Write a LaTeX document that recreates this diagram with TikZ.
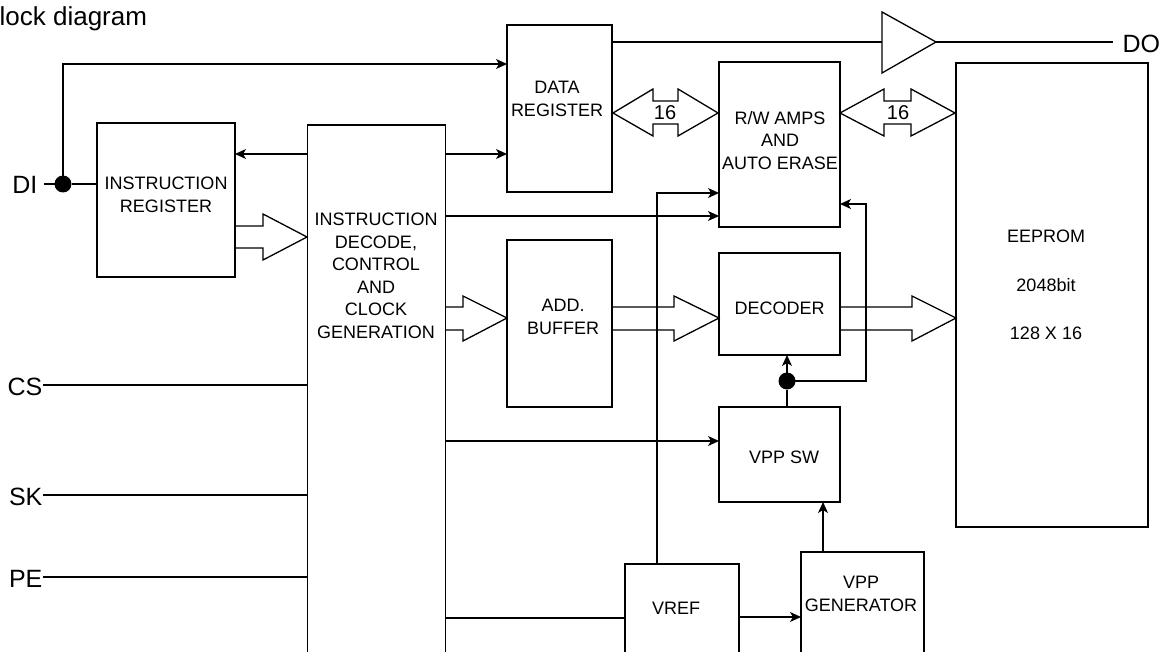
\documentclass[tikz,border=0pt]{standalone}
\usepackage{fontspec}
\setmainfont{Liberation Sans}
\usetikzlibrary{arrows.meta,calc}
\begin{document}
\begin{tikzpicture}[x=1pt,y=-1pt,
  line width=1.3pt,
  box/.style={draw, rectangle, inner sep=0pt, outer sep=0pt},
  txt/.style={align=center, inner sep=0pt, font=\fontsize{18}{22.5}\selectfont},
  pin/.style={inner sep=0pt, font=\fontsize{25}{30}\selectfont},
  arr/.style={-{Stealth[length=11pt,width=10pt,inset=3pt]}},
  bus/.style={line join=miter},
  dotn/.style={circle, fill=black, draw=none, minimum size=17pt, inner sep=0pt, outer sep=0pt},
  lbl/.style={inner sep=0pt, font=\fontsize{20}{24}\selectfont}]
\useasboundingbox (0,0) rectangle (1166,652);

% title
\node[anchor=base west, inner sep=0pt, font=\fontsize{26}{30}\selectfont] (title) at (-1,26) {lock diagram};

% boxes
\node[box, minimum width=138pt, minimum height=154pt] (ir) at (166,200) {};
\node[box, minimum width=138pt, minimum height=545pt] (dec) at (376.5,397.5) {};
\node[box, minimum width=105pt, minimum height=167pt] (dreg) at (559.5,108.5) {};
\node[box, minimum width=121pt, minimum height=165pt] (rw) at (779.5,144.5) {};
\node[box, minimum width=192pt, minimum height=464pt] (eep) at (1052,295) {};
\node[box, minimum width=105pt, minimum height=167pt] (addb) at (559.5,323.5) {};
\node[box, minimum width=121pt, minimum height=102pt] (decoder) at (779.5,304) {};
\node[box, minimum width=121pt, minimum height=95pt] (vppsw) at (779.5,454.5) {};
\node[box, minimum width=114pt, minimum height=110pt] (vref) at (682,619) {};
\node[box, minimum width=123pt, minimum height=122pt] (vppgen) at (862.5,613) {};

% box texts
\node[txt] (irt) at (166,195) {INSTRUCTION\\REGISTER};
\node[txt] (dect) at (376,276) {INSTRUCTION\\DECODE,\\CONTROL\\AND\\CLOCK\\GENERATION};
\node[txt] (dregt) at (557,99) {DATA\\REGISTER};
\node[txt] (rwt) at (780,140.5) {R/W AMPS\\AND\\AUTO ERASE};
\node[txt] (eept1) at (1046,236) {EEPROM};
\node[txt] (eept2) at (1046,285) {2048bit};
\node[txt] (eept3) at (1046,333) {128 X 16};
\node[txt] (addbt) at (563,317) {ADD.\\BUFFER};
\node[txt] (decodert) at (779.5,308) {DECODER};
\node[txt] (vppswt) at (784,457) {VPP SW};
\node[txt] (vreft) at (676,608) {VREF};
\node[txt] (vppgent) at (861,594) {VPP\\GENERATOR};

% pins
\node[pin, anchor=east, inner xsep=6pt] (di) at (44,185) {DI};
\node[pin, anchor=east] (cs) at (43,387) {CS};
\node[pin, anchor=east] (sk) at (43,497) {SK};
\node[pin, anchor=east] (pe) at (43,579) {PE};
\node[pin, anchor=west, inner xsep=9pt] (do) at (1113,44) {DO};

% dots
\node[dotn] (dot1) at (63,184) {};
\node[dotn] (dot2) at (787,381) {};

% DI connections
\draw (di.east |- dot1) -- (dot1);
\draw (dot1) -- (ir.west |- dot1);
\draw[arr] (dot1.center) |- (dreg.west |- 0,64);

% control inputs
\draw (cs.east |- 0,385) -- (dec.west |- 0,385);
\draw (sk.east |- 0,495) -- (dec.west |- 0,495);
\draw (pe.east |- 0,577) -- (dec.west |- 0,577);

% decode <-> IR
\draw[arr] (dec.west |- 0,154) -- (ir.east |- 0,154);
\draw[bus] (235,226) -- (263,226) -- (263,214) -- (307,237) -- (263,260) -- (263,248) -- (235,248);

% decode outputs
\draw[arr] (dec.east |- 0,154) -- (dreg.west |- 0,154);
\draw[arr] (dec.east |- 0,216) -- (rw.west |- 0,216);
\draw[arr] (dec.east |- 0,441) -- (vppsw.west |- 0,441);
\draw (dec.east |- 0,618) -- (vref.west |- 0,618);
\draw[bus] (445,307) -- (463,307) -- (463,296) -- (507,318) -- (463,341) -- (463,330) -- (445,330);

% add buffer -> decoder -> eeprom
\draw[bus] (612,307) -- (674,307) -- (674,296) -- (719,318) -- (674,341) -- (674,330) -- (612,330);
\draw[bus] (840,307) -- (912,307) -- (912,296) -- (956,318) -- (912,341) -- (912,330) -- (840,330);

% 16-bit buses
\draw[bus] (613,113) -- (653,89) -- (653,101) -- (678,101) -- (678,89) -- (718,113) -- (678,136) -- (678,124) -- (653,124) -- (653,136) -- cycle;
\node[lbl] (b16a) at (665,113) {16};
\draw[bus] (840,113) -- (884,89) -- (884,101) -- (911,101) -- (911,89) -- (955,113) -- (911,136) -- (911,124) -- (884,124) -- (884,136) -- cycle;
\node[lbl] (b16b) at (898,113) {16};

% output buffer
\coordinate (bufin) at (882,42);
\coordinate (bufout) at (936,42);
\draw[line join=miter] (882,12) -- (bufout) -- (882,73) -- cycle;
\draw (dreg.east |- bufin) -- (bufin);
\draw (bufout) -- (do.west |- bufout);

% VREF line
\draw[arr] (vref.north -| 657,0) |- (rw.west |- 0,193);
\draw[arr] (vref.east |- 0,617) -- (vppgen.west |- 0,617);
\draw[arr] (vppgen.north -| 823,0) -- (vppsw.south -| 823,0);

% VPP SW -> decoder, rw
\draw (vppsw.north -| dot2) -- (dot2);
\draw[arr] (dot2) -- (decoder.south -| dot2);
\draw[arr] (dot2.center) -| (866,204) -- (rw.east |- 0,204);
\end{tikzpicture}
\end{document}
